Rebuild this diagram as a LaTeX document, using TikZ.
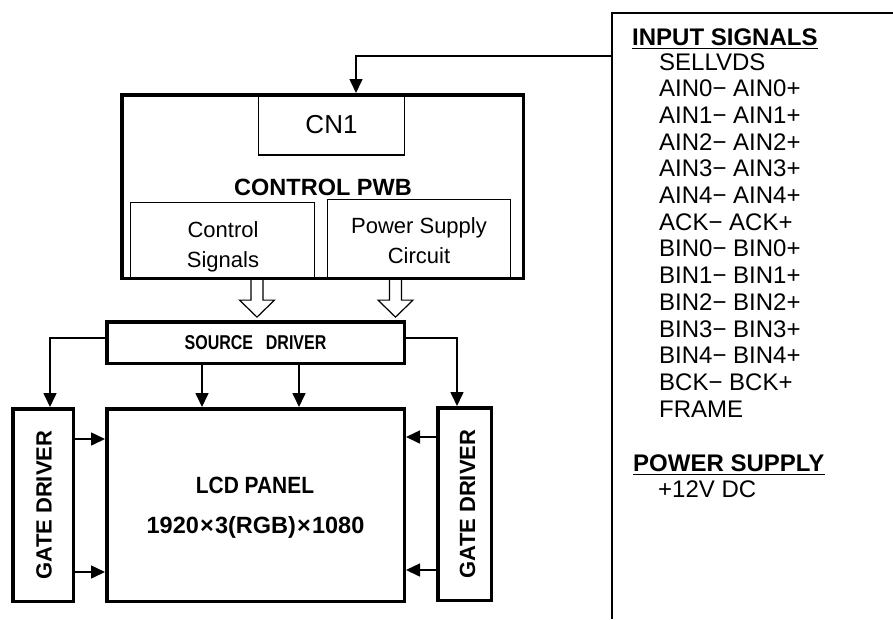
\documentclass[tikz,border=0pt]{standalone}
\usepackage{fontspec}
\setmainfont{Liberation Sans}
\usepackage{graphicx}
\usetikzlibrary{arrows.meta}
\begin{document}
\begin{tikzpicture}[x=1pt,y=-1pt,
  thickbox/.style={draw, line width=3.5pt, inner sep=0pt},
  thinbox/.style={draw, line width=1.2pt, inner sep=0pt},
  conn/.style={line width=1.6pt, -{Triangle[length=14pt,width=13pt]}},
  hollow/.style={line width=1.2pt, fill=white},
  item/.style={anchor=base west, inner sep=0pt, font=\fontsize{24}{26}\selectfont},
  headtxt/.style={anchor=base west, inner sep=0pt, font=\bfseries\fontsize{24}{26}\selectfont},
  subtxt/.style={anchor=base, inner sep=0pt, font=\fontsize{22}{24}\selectfont},
  bigtxt/.style={anchor=base, inner sep=0pt, font=\bfseries\fontsize{23.5}{26}\selectfont},
  gatetxt/.style={rotate=90, inner sep=0pt, font=\bfseries\fontsize{22}{24}\selectfont},
]
\useasboundingbox (0,0) rectangle (893,619);

% control PWB
\node[thickbox, minimum width=401.5pt, minimum height=183.5pt] (pwb) at (322.5,186.5) {};
\node[bigtxt] (pwbt) at (323,195) {CONTROL PWB};
\node[thinbox, minimum width=146pt, minimum height=61pt,
      font=\fontsize{26}{28}\selectfont] (cn1) at (331.5,124.5) {CN1};
\node[thinbox, minimum width=184pt, minimum height=77pt] (ctl) at (222.5,241) {};
\node[subtxt] (ctl1) at (223,237) {Control};
\node[subtxt] (ctl2) at (223,267) {Signals};
\node[thinbox, minimum width=183pt, minimum height=80pt] (pws) at (419,239.5) {};
\node[subtxt] (pws1) at (419,233) {Power Supply};
\node[subtxt] (pws2) at (419,263) {Circuit};

% hollow arrows
\draw[hollow] (ctl.south -| 251,0) -- ++(0,20) -- ++(-11.5,0) -- ++(17.5,17)
  -- ++(17.5,-17) -- ++(-11.5,0) -- ++(0,-20);
\draw[hollow] (pws.south -| 389.5,0) -- ++(0,20) -- ++(-11.5,0) -- ++(17.5,17)
  -- ++(17.5,-17) -- ++(-11.5,0) -- ++(0,-20);

% source driver
\node[thickbox, minimum width=297.5pt, minimum height=41.5pt,
      font=\bfseries\fontsize{20}{22}\selectfont] (src) at (255.5,342.5)
      {\raisebox{-3pt}{\scalebox{0.8}[1]{SOURCE\hspace{16pt}DRIVER}}};

% LCD panel
\node[thickbox, minimum width=297.5pt, minimum height=192.5pt] (lcd) at (255.5,505) {};
\node[bigtxt] (lcd1) at (255,493) {\scalebox{0.89}[1]{LCD PANEL}};
\node[bigtxt] (lcd2) at (255.5,533) {1920\kern1.2pt×\kern1.2pt3(RGB)\kern1.2pt×\kern1.2pt1080};

% gate drivers
\node[thickbox, minimum width=60.5pt, minimum height=192.5pt] (gl) at (43,505) {};
\node[gatetxt] (glt) at (44,505) {GATE DRIVER};
\node[thickbox, minimum width=53.5pt, minimum height=192.5pt] (gr) at (464.5,504) {};
\node[gatetxt] (grt) at (467.5,504) {GATE DRIVER};

% connectors
\coordinate (inp) at (612,56);
\draw[conn] (inp) -| (pwb.north -| 356,0);
\draw[conn] (src.west |- 0,338) -| (gl.north -| 50,0);
\draw[conn] (src.east |- 0,338) -| (gr.north -| 457,0);
\draw[conn] (src.south -| 202,0) -- (lcd.north -| 202,0);
\draw[conn] (src.south -| 299,0) -- (lcd.north -| 299,0);
\draw[conn] (gl.east |- 0,439) -- (lcd.west |- 0,439);
\draw[conn] (gl.east |- 0,572) -- (lcd.west |- 0,572);
\draw[conn] (gr.west |- 0,437) -- (lcd.east |- 0,437);
\draw[conn] (gr.west |- 0,570) -- (lcd.east |- 0,570);

% right panel
\draw[line width=1.8pt] (612,619) -- (612,13) -- (894,13);
\node[headtxt] (h1) at (632,45) {INPUT SIGNALS};
\draw[line width=1.5pt] ([yshift=-3.5pt]h1.base west) -- ([yshift=-3.5pt]h1.base east);
\foreach \t [count=\i] in {SELLVDS, AIN0− AIN0+, AIN1− AIN1+, AIN2− AIN2+,
  AIN3− AIN3+, AIN4− AIN4+, ACK− ACK+, BIN0− BIN0+, BIN1− BIN1+, BIN2− BIN2+,
  BIN3− BIN3+, BIN4− BIN4+, BCK− BCK+, FRAME}
  \node[item] (s\i) at (659,{70+(\i-1)*26.7}) {\t};
\node[headtxt] (h2) at (633,471) {POWER SUPPLY};
\draw[line width=1.5pt] ([yshift=-3.5pt]h2.base west) -- ([yshift=-3.5pt]h2.base east);
\node[item] (pv) at (658,497) {+12V DC};
\end{tikzpicture}
\end{document}
